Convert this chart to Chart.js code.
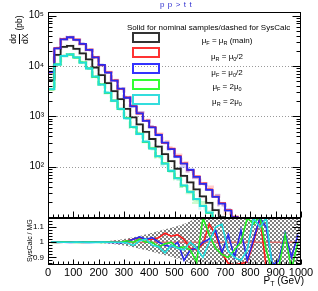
<!DOCTYPE html>
<html><head><meta charset="utf-8">
<script src="https://cdn.jsdelivr.net/npm/chart.js@4/dist/chart.umd.min.js"></script>
<style>
html,body{margin:0;padding:0;background:#fff;}
#wrap{position:relative;width:318px;height:291px;overflow:hidden;font-family:"Liberation Sans",Arial,sans-serif;color:#000;}
canvas{position:absolute;left:0;}
#c1{top:0;}
#c2{top:218px;}
.t{position:absolute;white-space:nowrap;line-height:1;}
.lab{position:absolute;left:180px;width:94px;text-align:center;font-size:8px;white-space:nowrap;line-height:1;}
.lab sub{font-size:5.5px;vertical-align:-2px;line-height:0;}
.box{position:absolute;left:132px;width:28px;height:11px;box-sizing:border-box;border:2px solid #000;}
</style></head><body>
<div id="wrap">
<canvas id="c1" width="318" height="218"></canvas>
<canvas id="c2" width="318" height="73"></canvas>

<div class="t" style="left:160px;top:1px;font-size:8px;color:#3030d0;letter-spacing:0.6px;">p p &gt; t t</div>

<div class="t" style="left:9px;top:44px;transform:rotate(-90deg);transform-origin:0 0;font-size:8.5px;display:flex;align-items:center;">
  <span style="display:inline-flex;flex-direction:column;align-items:center;"><span style="padding-bottom:1px">dσ</span><span style="border-top:1px solid #000;padding-top:1px">dX</span></span><span style="margin-left:3px">(pb)</span>
</div>

<div class="t" style="left:26px;top:262px;transform:rotate(-90deg);transform-origin:0 0;font-size:7px;">SysCalc / MG</div>

<div class="t" style="right:14px;top:276px;font-size:10px;">P<sub style="font-size:7px;vertical-align:-2px;line-height:0">T</sub> (GeV)</div>

<div class="t" style="left:127px;top:24px;font-size:8px;">Solid for nominal samples/dashed for SysCalc</div>
<div class="box" style="top:32px;border-color:#333;"></div>
<div class="box" style="top:47px;border-color:#ff3333;"></div>
<div class="box" style="top:63px;border-color:#3333ff;"></div>
<div class="box" style="top:79px;border-color:#33ff33;"></div>
<div class="box" style="top:94px;border-color:#33dddd;"></div>
<div class="lab" style="top:37px;">μ<sub>F</sub> = μ<sub>R</sub> (main)</div>
<div class="lab" style="top:53px;">μ<sub>R</sub> = μ<sub>0</sub>/2</div>
<div class="lab" style="top:69px;">μ<sub>F</sub> = μ<sub>0</sub>/2</div>
<div class="lab" style="top:83px;">μ<sub>F</sub> = 2μ<sub>0</sub></div>
<div class="lab" style="top:98px;">μ<sub>R</sub> = 2μ<sub>0</sub></div>
</div>

<script>
// ---------------- DATA ----------------
const binEdges = [0,25,50,75,100,125,150,175,200,225,250,275,300,325,350,375,400,425,450,475,500,
                  525,550,575,600,625,650,675,700,725,750,775,800,825,850,875,900,925,950,975,1000];
const xTicks = [0,100,200,300,400,500,600,700,800,900,1000];

// dsigma/dX (pb) per 25 GeV bin, MadGraph samples
const nominal  = [5250,16600,24000,25100,21900,17800,13500,9330,6610,4570,3160,2190,1410,955,692,490,355,251,178,129,
                  91.2,66.1,49.0,35.5,25.7,19.1,13.8,10.0,7.2,5.2,3.8,2.8,2.0,1.4,1.05,0.8,0.6,0.45,0.33,0.25];
const muRhalf  = [7500,22600,34200,37000,33300,27300,21000,14900,10400,7460,5180,3520,2370,1600,1140,825,610,435,298,228,
                  162,117,86,64.5,46.5,35.5,25.5,18.9,13.7,10.2,7.4,5.5,4.1,3.0,2.25,1.65,1.22,0.9,0.68,0.5];
const muFhalf  = [7590,22400,33900,37200,33100,27500,20900,14800,10500,7410,5130,3550,2340,1580,1150,813,603,427,302,224,
                  158,115,87.1,63.1,45.7,34.7,25.1,18.6,13.5,10.0,7.2,5.4,4.0,2.95,2.2,1.6,1.2,0.89,0.66,0.49];
const muFtwice = [3420,10800,15900,16900,14700,11800,8950,6120,4300,2930,2060,1400,920,610,452,312,232,160,117,82,
                  59.5,42,32,22.5,16.8,12.1,9.0,6.4,4.8,3.35,2.5,1.75,1.3,0.92,0.69,0.48,0.36,0.26,0.19,0.13];
const muRtwice = [3470,10700,15800,17000,14800,11700,8910,6170,4270,2950,2040,1410,912,617,447,316,229,162,115,83.2,
                  58.9,42.7,31.6,22.9,16.6,12.3,8.9,6.5,4.7,3.4,2.45,1.78,1.29,0.93,0.68,0.49,0.35,0.26,0.19,0.13];

// SysCalc / MG ratios per bin
const ratioNominal = [1,1,1,1,1,1,1,1,1,1,1,1,1,1,1,1,1,1,1,1,1,1,1,1,1,1,1,1,1,1,1,1,1,1,1,1,1,1,1,1];
const ratioRhalf  = [1.000,0.998,1.000,1.001,1.000,0.999,1.000,1.001,1.000,1.002,
                     1.004,1.000,1.010,1.020,1.030,1.015,1.020,1.030,1.060,1.040,
                     1.050,1.020,0.960,0.950,0.990,1.120,1.050,0.930,0.860,0.850,
                     0.860,0.870,1.000,1.160,0.840,0.750,0.700,0.700,0.700,0.700];
const ratioFhalf  = [1.000,1.001,1.000,0.999,1.000,1.001,0.999,1.000,1.002,0.998,
                     1.000,0.995,1.005,1.020,1.035,1.020,1.030,1.000,0.980,0.970,
                     1.000,0.880,0.950,0.960,1.000,1.020,1.080,0.930,1.050,0.900,
                     1.080,0.880,1.020,1.160,1.100,0.850,0.880,1.060,0.900,1.050];
const ratioFtwice = [0.998,1.000,1.001,1.000,0.999,1.000,1.001,1.000,0.999,1.001,
                     1.000,1.000,1.010,1.000,1.020,1.000,1.000,0.970,0.990,1.000,
                     0.960,0.970,0.950,0.870,1.160,1.050,0.960,0.920,0.900,0.950,
                     1.000,1.160,1.120,1.170,0.950,0.800,0.840,1.050,0.820,1.000];
const ratioRtwice = [1.001,0.999,1.000,1.000,1.001,0.999,1.000,0.999,1.001,1.000,
                     1.000,1.000,0.995,0.980,1.010,1.020,0.980,0.970,0.930,0.980,
                     0.960,0.950,1.000,0.960,0.900,1.000,1.100,1.120,0.940,0.900,
                     0.880,0.950,1.160,1.100,1.160,0.820,0.800,0.850,0.820,0.850];
// statistical uncertainty (half width) of the ratio band
const bandHalf = [0.003,0.002,0.002,0.002,0.002,0.003,0.003,0.004,0.006,0.009,
                  0.013,0.018,0.025,0.033,0.042,0.052,0.063,0.074,0.085,0.096,
                  0.108,0.120,0.140,0.165,0.25,0.25,0.25,0.25,0.25,0.25,
                  0.25,0.25,0.25,0.25,0.25,0.25,0.25,0.25,0.25,0.25];
const ratioTicks = [0.9, 1.0, 1.1];

const colors = {nominal:'#222222', rhalf:'#ff1a1a', fhalf:'#2a2aee', ftwice:'#22ee22', rtwice:'#22dddd'};

// ---------------- helpers ----------------
function histPts(vals){ return binEdges.map((x,i)=>({x:x, y:vals[Math.min(i, vals.length-1)]})); }
function sysPts(vals, ratio){ return binEdges.map((x,i)=>{const k=Math.min(i, vals.length-1); return {x:x, y:vals[k]*ratio[k]};}); }
function centerPts(vals){ return vals.map((v,i)=>({x:(binEdges[i]+binEdges[i+1])/2, y:v})); }
function bandPts(sign){
  const pts = bandHalf.map((h,i)=>({x:(binEdges[i]+binEdges[i+1])/2, y:1+sign*h}));
  pts.unshift({x:0, y:1+sign*bandHalf[0]});
  pts.push({x:1000, y:1+sign*bandHalf[bandHalf.length-1]});
  return pts;
}
function alpha(hex,a){const n=parseInt(hex.slice(1),16);return `rgba(${n>>16},${(n>>8)&255},${n&255},${a})`;}

function frame(kind){
  return {
    id:'frame_'+kind,
    beforeDatasetsDraw(chart){
      if(kind!=='main') return;
      const {ctx, chartArea:a, scales:{y}} = chart;
      ctx.save(); ctx.strokeStyle='#9a9a9a'; ctx.lineWidth=1; ctx.setLineDash([1,2]);
      [100,1000,10000].forEach(v=>{const py=Math.round(y.getPixelForValue(v))+0.5;
        ctx.beginPath(); ctx.moveTo(a.left,py); ctx.lineTo(a.right,py); ctx.stroke();});
      ctx.restore();
    },
    afterDatasetsDraw(chart){
      const {ctx, chartArea:a, scales:{x,y}} = chart;
      ctx.save(); ctx.strokeStyle='#000'; ctx.lineWidth=1; ctx.beginPath();
      const L=Math.round(a.left)+0.5, R=Math.round(a.right)-0.5, B=Math.round(a.bottom)-0.5;
      const hy=(py,len)=>{py=Math.round(py)+0.5; ctx.moveTo(L,py);ctx.lineTo(L+len,py);ctx.moveTo(R,py);ctx.lineTo(R-len,py);};
      if(kind==='main'){
        for(let d=1; d<=5; d++) for(let m=1;m<=9;m++){
          const v=m*Math.pow(10,d); if(v<y.min||v>y.max) continue;
          hy(y.getPixelForValue(v), m===1?8:4);
        }
      } else {
        for(let k=43;k<=58;k++){ const v=k*0.02; if(v<y.min||v>y.max) continue;
          const major = ratioTicks.some(t=>Math.abs(t-v)<1e-6);
          hy(y.getPixelForValue(v), major?8:4);
        }
      }
      for(let v=0; v<=1000; v+=20){
        const px=Math.round(x.getPixelForValue(v))+0.5;
        const len = v%100===0 ? (kind==='main'?6:5) : 3;
        ctx.moveTo(px,B); ctx.lineTo(px,B-len);
      }
      ctx.stroke();
      ctx.strokeRect(Math.round(a.left)+0.5, Math.round(a.top)+0.5, Math.round(a.right-a.left)-1, Math.round(a.bottom-a.top)-1);
      ctx.restore();
    }
  };
}

const font = "'Liberation Sans', Arial, 'DejaVu Sans', sans-serif";
const sup = {1:'\u00B9',2:'\u00B2',3:'\u00B3',4:'\u2074',5:'\u2075'};

// ---------------- main chart ----------------
function hist(label, vals, color, order){
  return {label, data:histPts(vals), borderColor:color, borderWidth:1.8, stepped:true, pointRadius:0, fill:false, order};
}
function sys(label, vals, ratio, color, order){
  return {label, data:sysPts(vals, ratio), borderColor:alpha(color,0.22), borderWidth:3, borderDash:[6,2], stepped:true, pointRadius:0, fill:false, order};
}

new Chart(document.getElementById('c1'), {
  type:'line',
  data:{datasets:[
    hist('μR = 2μ0', muRtwice, colors.rtwice, 1),
    hist('μF = 2μ0', muFtwice, colors.ftwice, 2),
    hist('μF = μ0/2', muFhalf, colors.fhalf, 3),
    hist('μR = μ0/2', muRhalf, colors.rhalf, 4),
    hist('μF = μR (main)', nominal, colors.nominal, 5),
    sys('SysCalc μR = 2μ0', muRtwice, ratioRtwice, colors.rtwice, 11),
    sys('SysCalc μF = 2μ0', muFtwice, ratioFtwice, colors.ftwice, 12),
    sys('SysCalc μF = μ0/2', muFhalf, ratioFhalf, colors.fhalf, 13),
    sys('SysCalc μR = μ0/2', muRhalf, ratioRhalf, colors.rhalf, 14),
    sys('SysCalc main', nominal, ratioNominal, '#888888', 15)
  ]},
  options:{
    responsive:false, animation:false, events:[],
    layout:{padding:{left:0,right:17,top:12,bottom:0}},
    plugins:{legend:{display:false}, tooltip:{enabled:false}},
    scales:{
      x:{type:'linear', min:0, max:1000, display:false},
      y:{type:'logarithmic', min:9.6, max:118000,
         grid:{display:false, drawTicks:false}, border:{display:false},
         ticks:{autoSkip:false, padding:4, color:'#000', font:{family:font, size:10},
           callback:(v)=>{const l=Math.log10(v); const r=Math.round(l); return Math.abs(l-r)<1e-6 ? '10'+(sup[r]||'') : '';}},
         afterFit:(s)=>{s.width=48; s.paddingTop=0; s.paddingBottom=0;}}
    }
  },
  plugins:[frame('main')]
});

// ---------------- ratio chart ----------------
const pc=document.createElement('canvas'); pc.width=4; pc.height=4;
const pg=pc.getContext('2d'); pg.fillStyle='#808080'; pg.fillRect(0,0,2,2); pg.fillRect(2,2,2,2);
const hatch=document.getElementById('c2').getContext('2d').createPattern(pc,'repeat');

function rline(label, vals, color, order, w){
  return {label, data:centerPts(vals), borderColor:color, borderWidth:w||1.6, pointRadius:0, fill:false, tension:0, order};
}

new Chart(document.getElementById('c2'), {
  type:'line',
  data:{datasets:[
    rline('μR = 2μ0', ratioRtwice, colors.rtwice, 1),
    rline('μF = 2μ0', ratioFtwice, colors.ftwice, 2),
    rline('μF = μ0/2', ratioFhalf, colors.fhalf, 3),
    rline('μR = μ0/2', ratioRhalf, colors.rhalf, 4),
    rline('main', ratioNominal, 'rgba(225,95,95,0.8)', 5, 1.5),
    {label:'stat up', data:bandPts(1), borderWidth:0, pointRadius:0, fill:'+1', backgroundColor:hatch, order:20},
    {label:'stat down', data:bandPts(-1), borderWidth:0, pointRadius:0, fill:false, order:21}
  ]},
  options:{
    responsive:false, animation:false, events:[],
    layout:{padding:{left:0,right:17,top:0,bottom:0}},
    plugins:{legend:{display:false}, tooltip:{enabled:false}, filler:{propagate:false}},
    scales:{
      x:{type:'linear', min:0, max:1000,
         grid:{display:false, drawTicks:false}, border:{display:false},
         afterBuildTicks:(s)=>{s.ticks = xTicks.map(v=>({value:v}));},
         ticks:{autoSkip:false, maxRotation:0, padding:1, color:'#000', font:{family:font, size:11},
           callback:(v)=>String(v)},
         afterFit:(s)=>{s.height=26; s.paddingLeft=0; s.paddingRight=0;}},
      y:{type:'linear', min:0.85, max:1.16,
         grid:{display:false, drawTicks:false}, border:{display:false},
         afterBuildTicks:(s)=>{s.ticks = ratioTicks.map(v=>({value:v}));},
         ticks:{autoSkip:false, padding:4, color:'#000', font:{family:font, size:8},
           callback:(v)=>Math.abs(v-1)<1e-6 ? '1' : v.toFixed(1)},
         afterFit:(s)=>{s.width=48; s.paddingTop=0; s.paddingBottom=0;}}
    }
  },
  plugins:[frame('ratio')]
});
</script>
</body></html>
